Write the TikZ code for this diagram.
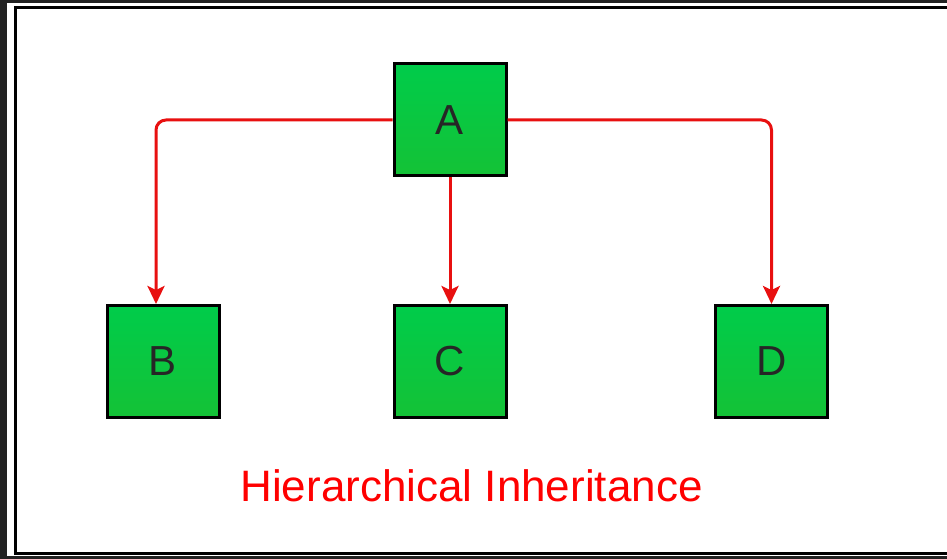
\documentclass[tikz,border=0pt]{standalone}
\usepackage{fontspec}
\setmainfont{Liberation Sans}
\usepackage{tikz}
\usetikzlibrary{arrows.meta, positioning}

\definecolor{darkbg}{HTML}{222222}
\definecolor{linered}{HTML}{E81010}
\definecolor{greentop}{HTML}{00CC4A}
\definecolor{greenbot}{HTML}{14C236}

\begin{document}
\begin{tikzpicture}[
    x=1pt, y=1pt,
    cls/.style={rectangle, draw=black, line width=3pt, top color=greentop, bottom color=greenbot, minimum width=112pt, minimum height=112pt, inner sep=0pt, font=\fontsize{42}{42}\selectfont, text=black!85},
    arrow/.style={-{Stealth[length=18pt, width=17pt, inset=4pt]}, line width=3pt, draw=linered, rounded corners=10pt},
    caption/.style={font=\fontsize{44}{44}\selectfont, text=red, anchor=base}
]

% Frame
\useasboundingbox (0,0) rectangle (947,559);
\fill[darkbg] (0,0) rectangle (947,559);
\fill[white] (7,3) rectangle (947,556);
\draw[line width=3pt] (960,5.5) -- (15.5,5.5) -- (15.5,551.5) -- (960,551.5);

% Classes
\node[cls] (A) at (450,439) {A};
\node[cls] (B) at (163,197.5) {B};
\node[cls] (C) at (450,197.5) {C};
\node[cls] (D) at (771.5,197.5) {D};

% Arrows
\draw[arrow] (A.west) -| ([xshift=-7pt]B.north);
\draw[arrow] (A.south) -- (C.north);
\draw[arrow] (A.east) -| (D.north);

% Caption
\node[caption] (title) at (471.5,57) {Hierarchical Inheritance};

\end{tikzpicture}
\end{document}
